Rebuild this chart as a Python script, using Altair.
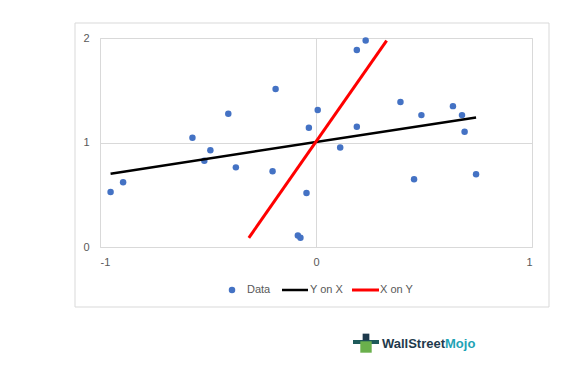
import altair as alt
import pandas as pd

# ---- data ----
data_x = [-0.951, -0.893, -0.572, -0.517, -0.489, -0.406, -0.371, -0.201, -0.187,
          -0.084, -0.072, -0.044, -0.033, 0.008, 0.112, 0.189, 0.189, 0.230,
          0.391, 0.454, 0.488, 0.634, 0.676, 0.688, 0.741]
data_y = [0.527, 0.619, 1.046, 0.826, 0.925, 1.275, 0.762, 0.724, 1.511,
          0.110, 0.088, 0.517, 1.141, 1.310, 0.953, 1.886, 1.151, 1.975,
          1.387, 0.648, 1.262, 1.348, 1.262, 1.103, 0.696]
yonx_x = [-0.951, 0.741]
yonx_y = [0.702, 1.240]
xony_x = [-0.311, 0.327]
xony_y = [0.088, 1.975]
legend_labels = ["Data", "Y on X", "X on Y"]
x_ticks = [-1, 0, 1]
y_ticks = [0, 1, 2]
logo_parts = ["WallStreet", "Mojo"]

W, H = 432, 209
FONT = "Liberation Sans"
GRID = "#d9d9d9"
LBL = "#595959"
BLUE = "#4472C4"

xs = alt.Scale(domain=[-1, 1], nice=False, zero=False)
ys = alt.Scale(domain=[0, 2], nice=False, zero=False)


def x_axis():
    return alt.Axis(values=x_ticks, title=None, grid=True, domain=False, ticks=False,
                    labelPadding=9, gridColor=GRID, labelColor=LBL, labelFontSize=11,
                    labelFont=FONT, labelExpr="'' + datum.value", labelOverlap=False)


def y_axis():
    return alt.Axis(values=y_ticks, title=None, grid=True, domain=False, ticks=False,
                    labelPadding=11, gridColor=GRID, labelColor=LBL, labelFontSize=11,
                    labelFont=FONT, labelExpr="'' + datum.value", labelOverlap=False)


def enc(chart):
    return chart.encode(
        x=alt.X("x:Q", scale=xs, axis=x_axis()),
        y=alt.Y("y:Q", scale=ys, axis=y_axis()),
    )


pts = enc(alt.Chart(pd.DataFrame({"x": data_x, "y": data_y})).mark_circle(
    size=42, color=BLUE, opacity=1))
line_yx = enc(alt.Chart(pd.DataFrame({"x": yonx_x, "y": yonx_y})).mark_line(
    color="black", strokeWidth=2.5))
line_xy = enc(alt.Chart(pd.DataFrame({"x": xony_x, "y": xony_y})).mark_line(
    color="#FF0000", strokeWidth=3))

one = pd.DataFrame({"k": [0]})

border = alt.Chart(one).mark_rect(filled=False, stroke=GRID, strokeWidth=1).encode(
    x=alt.value(-25), x2=alt.value(449), y=alt.value(-15), y2=alt.value(269)
)

LY = 252
leg_pt = alt.Chart(one).mark_circle(size=42, color=BLUE, opacity=1).encode(
    x=alt.value(132), y=alt.value(LY))
leg_t1 = alt.Chart(one).mark_text(align="left", baseline="middle", font=FONT,
                                   fontSize=11, color=LBL).encode(
    x=alt.value(147), y=alt.value(LY), text=alt.value(legend_labels[0]))
leg_l2 = alt.Chart(one).mark_rule(color="black", strokeWidth=2.5).encode(
    x=alt.value(182), x2=alt.value(208), y=alt.value(LY))
leg_t2 = alt.Chart(one).mark_text(align="left", baseline="middle", font=FONT,
                                   fontSize=11, color=LBL).encode(
    x=alt.value(210), y=alt.value(LY), text=alt.value(legend_labels[1]))
leg_l3 = alt.Chart(one).mark_rule(color="#FF0000", strokeWidth=3).encode(
    x=alt.value(252), x2=alt.value(279), y=alt.value(LY))
leg_t3 = alt.Chart(one).mark_text(align="left", baseline="middle", font=FONT,
                                   fontSize=11, color=LBL).encode(
    x=alt.value(280), y=alt.value(LY), text=alt.value(legend_labels[2]))

logo1 = alt.Chart(one).mark_text(align="right", baseline="middle", font=FONT,
                                  fontSize=13, fontWeight="bold", color="#1e3a4c").encode(
    x=alt.value(345), y=alt.value(306), text=alt.value(logo_parts[0]))
logo2 = alt.Chart(one).mark_text(align="left", baseline="middle", font=FONT,
                                  fontSize=13, fontWeight="bold", color="#1fa3b5").encode(
    x=alt.value(345), y=alt.value(306), text=alt.value(logo_parts[1]))
logo_arms = alt.Chart(one).mark_rule(color="#1e5a5a", strokeWidth=4).encode(
    x=alt.value(253), x2=alt.value(279), y=alt.value(304))
logo_body = alt.Chart(one).mark_point(shape="square", filled=True, size=130,
                                       color="#6ab04c", opacity=1).encode(
    x=alt.value(266), y=alt.value(309))
logo_hat = alt.Chart(one).mark_point(shape="square", filled=True, size=45,
                                      color="#1e3a4c", opacity=1).encode(
    x=alt.value(266), y=alt.value(299))

chart = alt.layer(
    pts, line_yx, line_xy, border,
    leg_pt, leg_t1, leg_l2, leg_t2, leg_l3, leg_t3,
    logo_arms, logo_body, logo_hat, logo1, logo2,
).properties(
    width=W, height=H,
    autosize="none",
    padding={"left": 92, "top": 30, "right": 48, "bottom": 112},
).configure_view(stroke=None).configure(background="white")

chart.save("out.html", embed_options={"renderer": "svg", "actions": False})
